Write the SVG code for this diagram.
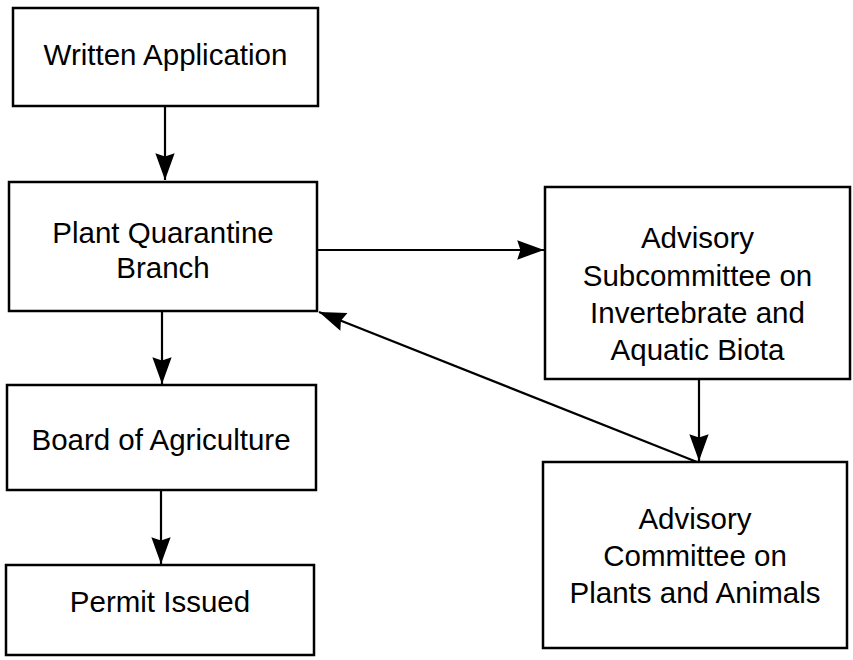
<svg xmlns="http://www.w3.org/2000/svg" width="853" height="660" viewBox="0 0 853 660">
<defs>
<style>
.box{fill:#fff;stroke:#000;stroke-width:2.5}
.lbl{font-family:"Liberation Sans",Arial,Helvetica,sans-serif;font-size:29.5px;fill:#000;text-anchor:middle}
.edge{fill:none;stroke:#000;stroke-width:2.2}
</style>
<marker id="ah" markerUnits="userSpaceOnUse" markerWidth="30" markerHeight="24" viewBox="-26 -10 28 20" refX="0" refY="0" orient="auto">
<path d="M0,0 L-25,-9 L-22,0 L-25,9 Z" fill="#000"/>
</marker>
</defs>
<rect width="853" height="660" fill="#fff"/>
<g id="connectors">
<line class="edge" x1="165" y1="106" x2="165" y2="180" marker-end="url(#ah)"/>
<line class="edge" x1="162" y1="311" x2="162" y2="384" marker-end="url(#ah)"/>
<line class="edge" x1="161" y1="490" x2="161" y2="564" marker-end="url(#ah)"/>
<line class="edge" x1="317" y1="250" x2="544" y2="250" marker-end="url(#ah)"/>
<line class="edge" x1="699" y1="379" x2="699" y2="461" marker-end="url(#ah)"/>
<line class="edge" x1="697" y1="462" x2="319" y2="312" marker-end="url(#ah)"/>
</g>
<g id="written-application">
<rect class="box" x="13" y="8" width="305" height="98"/>
<text class="lbl" x="165.5" y="65">Written Application</text>
</g>
<g id="plant-quarantine-branch">
<rect class="box" x="9" y="182" width="308" height="129"/>
<text class="lbl" x="163" y="243">Plant Quarantine</text>
<text class="lbl" x="163" y="278">Branch</text>
</g>
<g id="board-of-agriculture">
<rect class="box" x="7" y="385" width="309" height="105"/>
<text class="lbl" x="161" y="450">Board of Agriculture</text>
</g>
<g id="permit-issued">
<rect class="box" x="6" y="565" width="308" height="90"/>
<text class="lbl" x="160" y="612">Permit Issued</text>
</g>
<g id="advisory-subcommittee">
<rect class="box" x="545" y="187" width="305" height="192"/>
<text class="lbl" x="697.5" y="248">Advisory</text>
<text class="lbl" x="697.5" y="286">Subcommittee on</text>
<text class="lbl" x="697.5" y="323">Invertebrate and</text>
<text class="lbl" x="697.5" y="360">Aquatic Biota</text>
</g>
<g id="advisory-committee">
<rect class="box" x="543" y="462" width="304" height="186"/>
<text class="lbl" x="695" y="529">Advisory</text>
<text class="lbl" x="695" y="566">Committee on</text>
<text class="lbl" x="695" y="603">Plants and Animals</text>
</g>
</svg>
